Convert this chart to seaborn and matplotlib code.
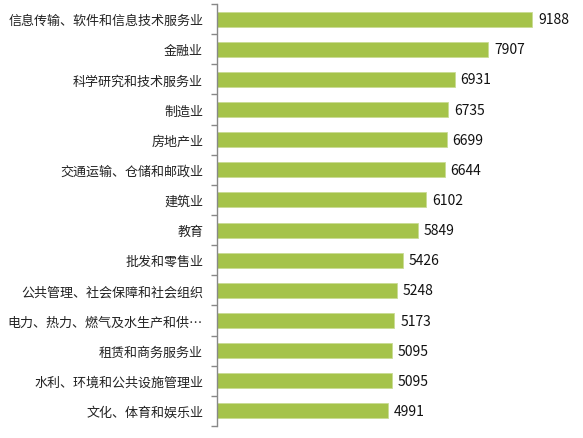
import matplotlib
matplotlib.use("Agg")
import matplotlib.pyplot as plt
import seaborn as sns
import pandas as pd

industries = [
    "信息传输、软件和信息技术服务业",
    "金融业",
    "科学研究和技术服务业",
    "制造业",
    "房地产业",
    "交通运输、仓储和邮政业",
    "建筑业",
    "教育",
    "批发和零售业",
    "公共管理、社会保障和社会组织",
    "电力、热力、燃气及水生产和供…",
    "租赁和商务服务业",
    "水利、环境和公共设施管理业",
    "文化、体育和娱乐业",
]
salaries = [9188, 7907, 6931, 6735, 6699, 6644, 6102, 5849, 5426, 5248, 5173, 5095, 5095, 4991]

df = pd.DataFrame({"industry": industries, "salary": salaries})

sns.set_style("white")
plt.rcParams['font.family'] = ['Noto Sans CJK SC', 'DejaVu Sans']

fig = plt.figure(figsize=(5.83, 4.39), dpi=100)
ax = fig.add_axes([217 / 583, 12 / 439, 343 / 583, 422 / 439])

sns.barplot(data=df, x="salary", y="industry", orient="h", color="#a5c34a",
            width=0.5, saturation=1, ax=ax, edgecolor="#c9dc94", linewidth=0.6)

for i, v in enumerate(salaries):
    ax.text(v + 170, i, str(v), va="center", ha="left", fontsize=10, color="#111111")

ax.set_xlim(0, 10000)
ax.set_ylim(len(industries) - 0.5, -0.5)
ax.set_xlabel("")
ax.set_ylabel("")
ax.set_xticks([])
for s in ["top", "right", "bottom"]:
    ax.spines[s].set_visible(False)
ax.spines["left"].set_color("#888888")
ax.spines["left"].set_linewidth(1.0)

# ticks sit between categories, labels centered on bars
ax.set_yticks([i + 0.5 for i in range(-1, len(industries))], minor=True)
ax.tick_params(axis="y", which="minor", length=4, color="#888888", width=1, left=True)
ax.tick_params(axis="y", which="major", length=0, pad=10, labelsize=9.4, labelcolor="#222222")

fig.savefig("out.png", dpi=100)
